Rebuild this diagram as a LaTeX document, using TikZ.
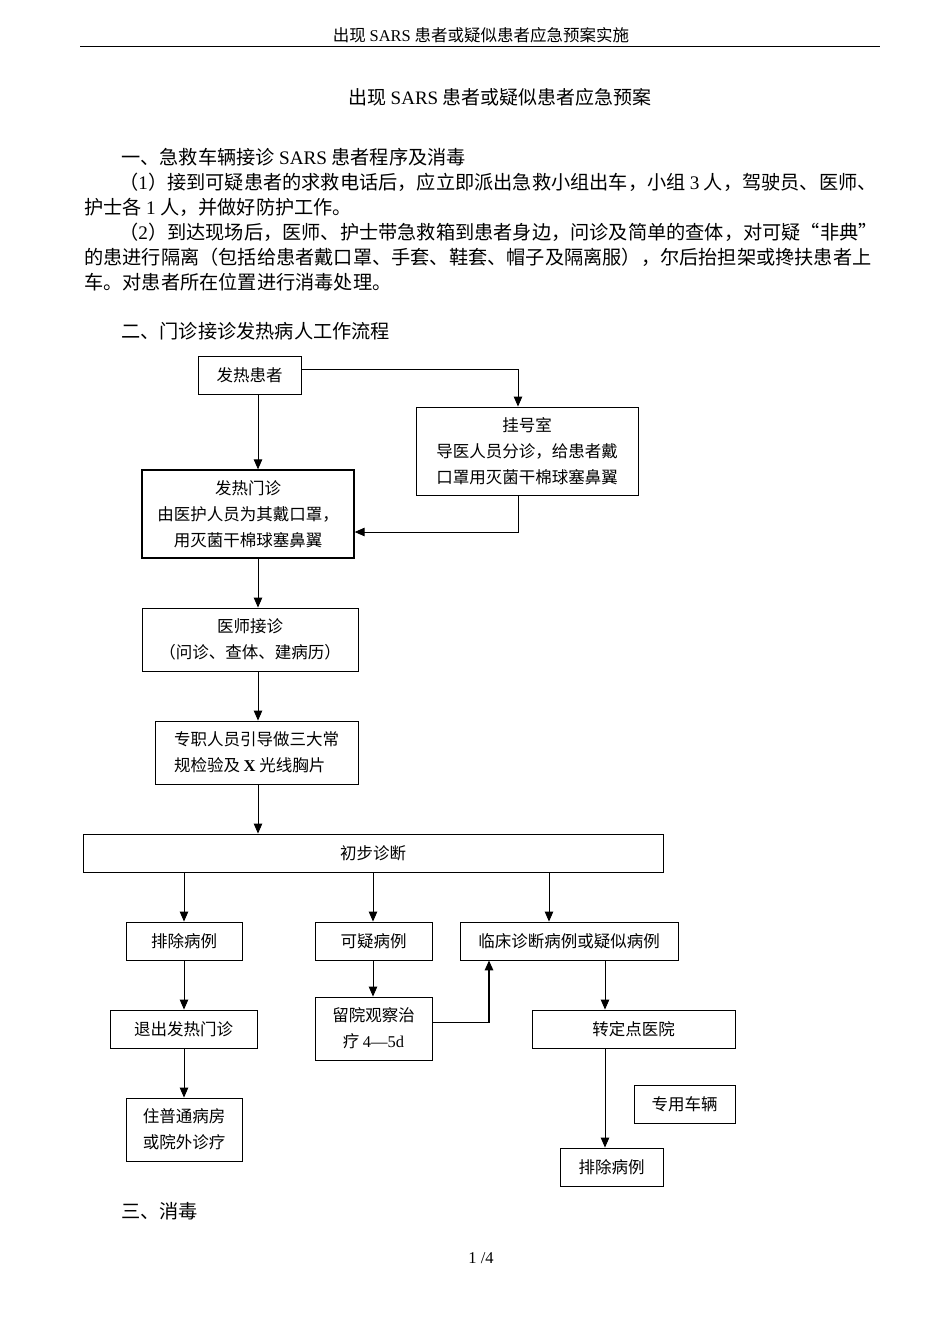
\documentclass[tikz,border=0pt]{standalone}
\usepackage{fontspec}
\setmainfont{Noto Sans CJK SC}
\newfontfamily\lat{Liberation Serif}
\usetikzlibrary{arrows.meta}
\tikzset{>={Triangle[length=10pt,width=8.5pt]},
box/.style={draw, line width=0.9pt, inner sep=0pt, align=center, font=\fontsize{16.5}{26}\selectfont},
flow/.style={->, line width=0.9pt},
body/.style={anchor=west, inner sep=0pt, font=\fontsize{19.2}{25}\selectfont},
}
\begin{document}
\begin{tikzpicture}[x=1pt, y=-1pt]
            \useasboundingbox (0,0) rectangle (945,1337);
            \node[inner sep=0pt, font=\fontsize{16.5}{20}\selectfont] (head) at (481,35) {出现 {\lat SARS} 患者或疑似患者应急预案实施};
            \draw[line width=0.9pt] (80,46) -- (880,46);
            \node[inner sep=0pt, font=\fontsize{19}{20}\selectfont] (title) at (500,97) {出现 {\lat SARS} 患者或疑似患者应急预案};

            \node[body] (sec1) at (121,157) {一、急救车辆接诊 {\lat SARS} 患者程序及消毒};
            \node[body] (p1a) at (119,182) {（{\lat 1}）接到可疑患者的求救电话后，应立即派出急救小组出车，小组 {\lat 3} 人，驾驶员、医师、};
            \node[body] (p1b) at (84,207) {护士各 {\lat 1} 人，并做好防护工作。};
            \node[body] (p2a) at (119,232) {（{\lat 2}）到达现场后，医师、护士带急救箱到患者身边，问诊及简单的查体，对可疑“非典”};
            \node[body] (p2b) at (84,257) {的患进行隔离（包括给患者戴口罩、手套、鞋套、帽子及隔离服），尔后抬担架或搀扶患者上};
            \node[body] (p2c) at (84,282) {车。对患者所在位置进行消毒处理。};
            \node[body] (sec2) at (121,331) {二、门诊接诊发热病人工作流程};
            \node[body] (sec3) at (121,1211) {三、消毒};
            \node[inner sep=0pt, font=\lat\fontsize{16.5}{20}\selectfont] (page) at (481,1258) {1 /4};

            \node[box, minimum width=103, minimum height=38] (patient) at (249.5,375) {发热患者};
            \node[box, minimum width=222, minimum height=88] (registry) at (527,451) {挂号室\\导医人员分诊，给患者戴\\口罩用灭菌干棉球塞鼻翼};
            \node[box, line width=1.3pt, minimum width=212, minimum height=88] (clinic) at (248,514) {发热门诊\\由医护人员为其戴口罩，\\用灭菌干棉球塞鼻翼};
            \node[box, minimum width=216, minimum height=63] (doctor) at (250,639.5) {医师接诊\\（问诊、查体、建病历）};
            \node[box, align=left, minimum width=203, minimum height=63] (exam) at (256.5,752.5) {专职人员引导做三大常\\规检验及 {\lat\bfseries X} 光线胸片};
            \node[box, minimum width=580, minimum height=38] (prelim) at (373,853) {初步诊断};
            \node[box, minimum width=116, minimum height=38] (exclude) at (184,941) {排除病例};
            \node[box, minimum width=117, minimum height=38] (suspect) at (373.5,941) {可疑病例};
            \node[box, minimum width=218, minimum height=38] (clinical) at (569,941) {临床诊断病例或疑似病例};
            \node[box, minimum width=147, minimum height=38] (leave) at (183.5,1029) {退出发热门诊};
            \node[box, minimum width=117, minimum height=63] (observe) at (373.5,1028.5) {留院观察治\\疗 {\lat 4—5d}};
            \node[box, minimum width=203, minimum height=38] (transfer) at (633.5,1029) {转定点医院};
            \node[box, minimum width=116, minimum height=63] (ward) at (184,1129.5) {住普通病房\\或院外诊疗};
            \node[box, minimum width=101, minimum height=38] (vehicle) at (684.5,1104) {专用车辆};
            \node[box, minimum width=103, minimum height=38] (exclude2) at (611.5,1167) {排除病例};

            \coordinate (spine) at (258,0);
            \coordinate (regx) at (518,0);
            \coordinate (back) at (0,532);
            \coordinate (colA) at (184,0);
            \coordinate (colB) at (373,0);
            \coordinate (colC) at (549,0);
            \coordinate (colD) at (605,0);
            \coordinate (up) at (489,0);

            \draw[flow] ([yshift=6pt]patient.east) -| (registry.north -| regx);
            \draw[flow] (patient.south -| spine) -- (clinic.north -| spine);
            \draw[flow] (registry.south -| regx) |- (clinic.east |- back);
            \draw[flow] (clinic.south -| spine) -- (doctor.north -| spine);
            \draw[flow] (doctor.south -| spine) -- (exam.north -| spine);
            \draw[flow] (exam.south -| spine) -- (prelim.north -| spine);
            \draw[flow] (prelim.south -| colA) -- (exclude.north -| colA);
            \draw[flow] (prelim.south -| colB) -- (suspect.north -| colB);
            \draw[flow] (prelim.south -| colC) -- (clinical.north -| colC);
            \draw[flow] (exclude.south -| colA) -- (leave.north -| colA);
            \draw[flow] (leave.south -| colA) -- (ward.north -| colA);
            \draw[flow] (suspect.south -| colB) -- (observe.north -| colB);
            \draw[flow, line width=1.6pt] ([yshift=6pt]observe.east) -| (clinical.south -| up);
            \draw[flow] (clinical.south -| colD) -- (transfer.north -| colD);
            \draw[flow] (transfer.south -| colD) -- (exclude2.north -| colD);
        \end{tikzpicture}
\end{document}
